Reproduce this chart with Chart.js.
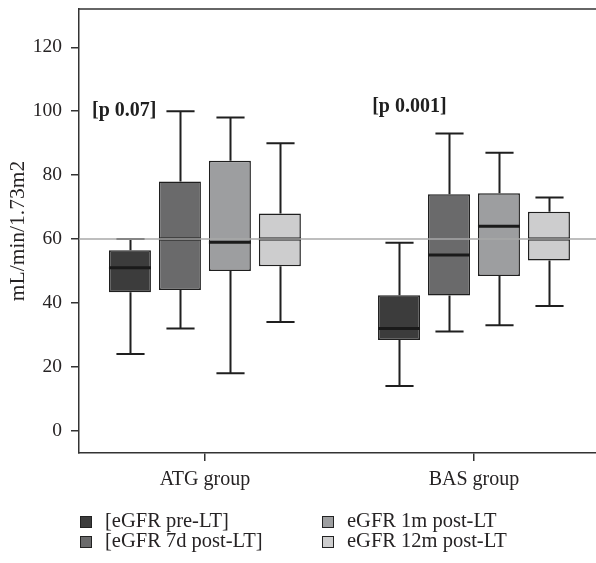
<!DOCTYPE html>
<html><head><meta charset="utf-8">
<script src="https://cdn.jsdelivr.net/npm/chart.js@4/dist/chart.umd.min.js"></script>
<style>html,body{margin:0;padding:0;background:#fff}#wrap{width:596px;height:563px}</style>
</head><body><div id="wrap"><canvas id="c" width="596" height="563"></canvas></div>
<script>
// ---- data ----
const categories = ['ATG group', 'BAS group'];
const seriesLabels = ['[eGFR pre-LT]', '[eGFR 7d post-LT]', 'eGFR 1m post-LT', 'eGFR 12m post-LT'];
// five-number summaries per group: [min, q1, median, q3, max]
const eGFRpre   = [[24, 43.3, 51, 56.5, 60], [14, 28.4, 32, 42.4, 58.8]];
const eGFR7d    = [[32, 44, 60, 78, 100],    [31, 42.3, 55, 74, 93]];
const eGFR1m    = [[18, 50, 59, 84.5, 98],   [33, 48.4, 64, 74.3, 87]];
const eGFR12m   = [[34, 51.5, 60, 68, 90],   [39, 53.3, 60, 68.5, 73]];
const yTicks = [0, 20, 40, 60, 80, 100, 120];
const refValue = 60;
const pLabels = ['[p 0.07]', '[p 0.001]'];
const pLabelValues = [100, 101.3];

const seriesStats = [eGFRpre, eGFR7d, eGFR1m, eGFR12m];
const FONT = "'Liberation Serif', 'Times New Roman', serif";
const TEXT = '#262324';
const boxColors = ['#3c3c3c', '#6a6a6b', '#9d9ea0', '#cdcdce'];
const pLabelOffsets = [-0.30, -0.24];

const datasets = seriesStats.map((stats, i) => ({
  label: seriesLabels[i],
  data: stats.map((s, j) => ({ x: j, y: [s[1], s[3]] })),
  backgroundColor: boxColors[i],
  borderColor: '#1f1f1f',
  borderWidth: 1.5,
  borderSkipped: false,
  categoryPercentage: 0.743,
  barPercentage: 0.84
}));

const boxPlugin = {
  id: 'boxExtras',
  beforeDatasetsDraw(chart) {
    const ctx = chart.ctx, y = chart.scales.y;
    ctx.save();
    ctx.strokeStyle = '#1f1f1f';
    ctx.lineWidth = 2;
    datasets.forEach((ds, i) => {
      const meta = chart.getDatasetMeta(i);
      seriesStats[i].forEach((s, j) => {
        const bar = meta.data[j];
        const cx = Math.round(bar.x) + 0.5, cw = bar.width * 0.67;
        const pMin = y.getPixelForValue(s[0]), pQ1 = y.getPixelForValue(s[1]);
        const pQ3 = y.getPixelForValue(s[3]), pMax = y.getPixelForValue(s[4]);
        ctx.beginPath();
        ctx.moveTo(cx, pQ3); ctx.lineTo(cx, pMax);
        ctx.moveTo(cx - cw / 2, pMax); ctx.lineTo(cx + cw / 2, pMax);
        ctx.moveTo(cx, pQ1); ctx.lineTo(cx, pMin);
        ctx.moveTo(cx - cw / 2, pMin); ctx.lineTo(cx + cw / 2, pMin);
        ctx.stroke();
      });
    });
    ctx.restore();
  },
  afterDatasetsDraw(chart) {
    const ctx = chart.ctx, y = chart.scales.y, x = chart.scales.x, a = chart.chartArea;
    ctx.save();
    // medians
    ctx.strokeStyle = '#1a1a1a';
    ctx.lineWidth = 3;
    datasets.forEach((ds, i) => {
      const meta = chart.getDatasetMeta(i);
      seriesStats[i].forEach((s, j) => {
        const bar = meta.data[j];
        const pm = y.getPixelForValue(s[2]);
        ctx.beginPath();
        ctx.moveTo(bar.x - bar.width / 2, pm);
        ctx.lineTo(bar.x + bar.width / 2, pm);
        ctx.stroke();
      });
    });
    // reference line
    const pr = y.getPixelForValue(refValue);
    ctx.strokeStyle = '#a8a8a8';
    ctx.lineWidth = 1.5;
    ctx.beginPath(); ctx.moveTo(a.left, pr); ctx.lineTo(a.right, pr); ctx.stroke();
    // top border
    ctx.strokeStyle = '#333';
    ctx.lineWidth = 1.5;
    ctx.beginPath(); ctx.moveTo(a.left, a.top); ctx.lineTo(a.right, a.top); ctx.stroke();
    // p labels
    ctx.fillStyle = '#1f1f1f';
    ctx.font = 'bold 20px ' + FONT;
    ctx.textAlign = 'center';
    ctx.textBaseline = 'middle';
    pLabels.forEach((t, j) => {
      ctx.fillText(t, x.getPixelForValue(j + pLabelOffsets[j]), y.getPixelForValue(pLabelValues[j]));
    });
    ctx.restore();
  },
  afterDraw(chart) {
    const ctx = chart.ctx;
    ctx.save();
    ctx.font = '20.5px ' + FONT;
    ctx.textAlign = 'left';
    ctx.textBaseline = 'middle';
    const cols = [80, 322], rows = [522, 542];
    datasets.forEach((ds, i) => {
      const cx = cols[Math.floor(i / 2)], cy = rows[i % 2];
      ctx.fillStyle = ds.backgroundColor;
      ctx.fillRect(cx, cy - 6, 12, 12);
      ctx.strokeStyle = '#222';
      ctx.lineWidth = 1;
      ctx.strokeRect(cx + 0.5, cy - 5.5, 11, 11);
      ctx.fillStyle = TEXT;
      ctx.fillText(ds.label, cx + 25, cy);
    });
    ctx.restore();
  }
};

new Chart(document.getElementById('c'), {
  type: 'bar',
  data: { datasets },
  options: {
    responsive: false,
    animation: false,
    devicePixelRatio: 1,
    layout: { padding: { top: 9, bottom: 65, left: 0, right: 0 } },
    plugins: { legend: { display: false }, tooltip: { enabled: false } },
    scales: {
      x: {
        type: 'linear', min: -0.468, max: 1.4535, offset: false,
        afterBuildTicks: s => { s.ticks = categories.map((_, i) => ({ value: i })); },
        ticks: { callback: v => categories[v] ?? '', font: { family: FONT, size: 20 }, color: TEXT, padding: 7, autoSkip: false, maxRotation: 0 },
        grid: { display: true, drawOnChartArea: false, drawTicks: true, tickLength: 8, color: '#333', lineWidth: 1.5, offset: false },
        border: { display: true, color: '#333', width: 1.5 },
        afterFit: s => { s.height = 45; s.paddingLeft = 0; s.paddingRight = 0; }
      },
      y: {
        min: -7, max: 132,
        afterBuildTicks: s => { s.ticks = yTicks.map(v => ({ value: v })); },
        ticks: { font: { family: FONT, size: 19.5 }, color: TEXT, padding: 9 },
        grid: { display: true, drawOnChartArea: false, drawTicks: true, tickLength: 8, color: '#333', lineWidth: 1.5 },
        border: { display: true, color: '#333', width: 1.5 },
        title: { display: true, text: 'mL/min/1.73m2', font: { family: FONT, size: 21.5 }, color: TEXT, padding: { top: 5, bottom: 0 } },
        afterFit: s => { s.width = 79; s.paddingTop = 0; s.paddingBottom = 0; }
      }
    }
  },
  plugins: [boxPlugin]
});
</script></body></html>
